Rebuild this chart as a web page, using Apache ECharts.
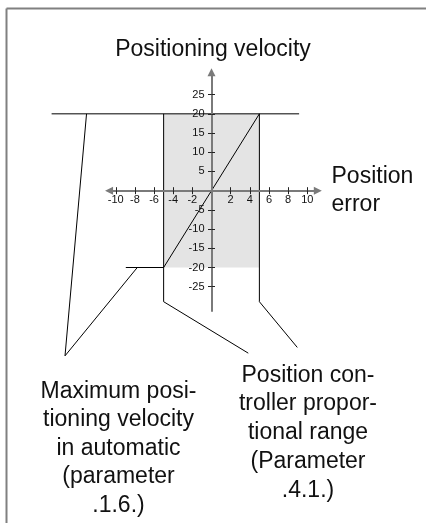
<!DOCTYPE html>
<html>
<head>
<meta charset="utf-8">
<script src="https://cdn.jsdelivr.net/npm/echarts@6/dist/echarts.min.js"></script>
<style>html,body{margin:0;padding:0;background:#fff}#c{width:426px;height:523px}</style>
</head>
<body>
<div id="c"></div>
<script>
// ---- data ----
const xTicks = [-10, -8, -6, -4, -2, 2, 4, 6, 8, 10];
const yTicks = [-25, -20, -15, -10, -5, 5, 10, 15, 20, 25];
const propBandX = [-5, 5];
const propBandY = [-20, 20];
const topLimit = [[-16.7, 20], [9.15, 20]];
const velocityCurve = [[-8.95, -20], [-5, -20], [5, 20]];
const bandLeftLeader = [[-5, 20], [-5, -28.9], [3.84, -42.3]];
const bandRightLeader = [[5, 20], [5, -28.9], [8.96, -40.8]];
const maxLeader = [[-13.05, 20], [-15.3, -43.0], [-7.75, -20]];
const xAxisEnds = [-10.7, 11.1];
const yAxisEnds = [-31.5, 30.8];
const titleText = 'Positioning velocity';
const xAxisText = 'Position\nerror';
const noteMax = 'Maximum posi-\ntioning velocity\nin automatic\n(parameter\n.1.6.)';
const noteProp = 'Position con-\ntroller propor-\ntional range\n(Parameter\n.4.1.)';

const FONT = '"Liberation Sans", Arial, Helvetica, sans-serif';
const chart = echarts.init(document.getElementById('c'), null, {renderer: 'canvas'});

// plot frame (px) and zero positions
const L = 20, R = 23, T = 37, B = 25;
const X0 = 211.5, Y0 = 190.7;
const XMIN = -20, XMAX = 20, YMIN = -80, YMAX = 40;

const hidden = (gi, min, max) => ({type: 'value', gridIndex: gi, min: min, max: max, show: false, axisLine: {onZero: false}});
function tickX(gi, pos, labels) {
  return {
    type: 'value', gridIndex: gi, position: pos, min: XMIN, max: XMAX, z: 5,
    axisLine: {show: false, onZero: false}, splitLine: {show: false},
    axisTick: {show: true, length: 3.5, customValues: xTicks, lineStyle: {color: '#222', width: 1}},
    axisLabel: {show: labels, customValues: xTicks, fontSize: 11, color: '#111', margin: 4, fontFamily: FONT}
  };
}
function tickY(gi, pos, labels) {
  return {
    type: 'value', gridIndex: gi, position: pos, min: YMIN, max: YMAX, z: 5,
    axisLine: {show: false, onZero: false}, splitLine: {show: false},
    axisTick: {show: true, length: 3.5, customValues: yTicks, lineStyle: {color: '#222', width: 1}},
    axisLabel: {show: labels, customValues: yTicks, fontSize: 11, color: '#111', margin: 7, fontFamily: FONT}
  };
}
function poly(data, name) {
  return {
    type: 'line', name: name, data: data, xAxisIndex: 0, yAxisIndex: 0,
    symbol: 'none', silent: true, z: 3,
    lineStyle: {color: '#000', width: 1}
  };
}
const ob = {outerBoundsMode: 'none'};

chart.setOption({
  animation: false,
  backgroundColor: '#fff',
  grid: [
    Object.assign({left: L, right: R, top: T, bottom: B}, ob),
    Object.assign({left: L, right: R, top: T, height: Y0 - T}, ob),
    Object.assign({left: L, right: R, top: Y0, bottom: B}, ob),
    Object.assign({left: X0, right: R, top: T, bottom: B}, ob),
    Object.assign({left: L, width: X0 - L, top: T, bottom: B}, ob)
  ],
  xAxis: [
    hidden(0, XMIN, XMAX),
    tickX(1, 'bottom', true),
    tickX(2, 'top', false),
    hidden(3, 0, 1),
    hidden(4, 0, 1)
  ],
  yAxis: [
    hidden(0, YMIN, YMAX),
    hidden(1, 0, 1),
    hidden(2, 0, 1),
    tickY(3, 'left', true),
    tickY(4, 'right', false)
  ],
  series: [
    {
      type: 'line', data: [], xAxisIndex: 0, yAxisIndex: 0, z: 1, silent: true,
      markArea: {
        silent: true,
        itemStyle: {color: '#e4e4e4'},
        data: [[{coord: [propBandX[0], propBandY[1]]}, {coord: [propBandX[1], propBandY[0]]}]]
      }
    },
    {
      type: 'line', data: [], xAxisIndex: 0, yAxisIndex: 0, z: 4, silent: true,
      markLine: {
        silent: true, animation: false,
        label: {show: false},
        lineStyle: {color: '#7a7a7a', width: 2, type: 'solid'},
        symbolSize: 8,
        data: [
          [{coord: [xAxisEnds[0], 0], symbol: 'triangle'}, {coord: [xAxisEnds[1], 0], symbol: 'triangle'}],
          [{coord: [0, yAxisEnds[0]], symbol: 'none'}, {coord: [0, yAxisEnds[1]], symbol: 'triangle'}]
        ]
      }
    },
    poly(topLimit, 'limit'),
    poly(velocityCurve, 'velocity'),
    poly(bandLeftLeader, 'bandL'),
    poly(bandRightLeader, 'bandR'),
    poly(maxLeader, 'maxLeader')
  ],
  graphic: [
    {type: 'line', shape: {x1: 6.5, y1: 8.5, x2: 6.5, y2: 523}, style: {stroke: '#808080', lineWidth: 2}},
    {type: 'line', shape: {x1: 6.5, y1: 8.5, x2: 426, y2: 8.5}, style: {stroke: '#808080', lineWidth: 2}},
    {type: 'text', x: 213, y: 49.5, style: {text: titleText, font: '23px ' + FONT, fill: '#111', textAlign: 'center', textVerticalAlign: 'middle'}},
    {type: 'text', x: 331.5, y: 163, style: {text: xAxisText, font: '23px ' + FONT, fill: '#111', textAlign: 'left', textVerticalAlign: 'top', lineHeight: 28}},
    {type: 'text', x: 118.5, y: 377, style: {text: noteMax, font: '23px ' + FONT, fill: '#111', textAlign: 'center', textVerticalAlign: 'top', lineHeight: 28.5}},
    {type: 'text', x: 308, y: 361, style: {text: noteProp, font: '23px ' + FONT, fill: '#111', textAlign: 'center', textVerticalAlign: 'top', lineHeight: 28.75}}
  ]
});
</script>
</body>
</html>
